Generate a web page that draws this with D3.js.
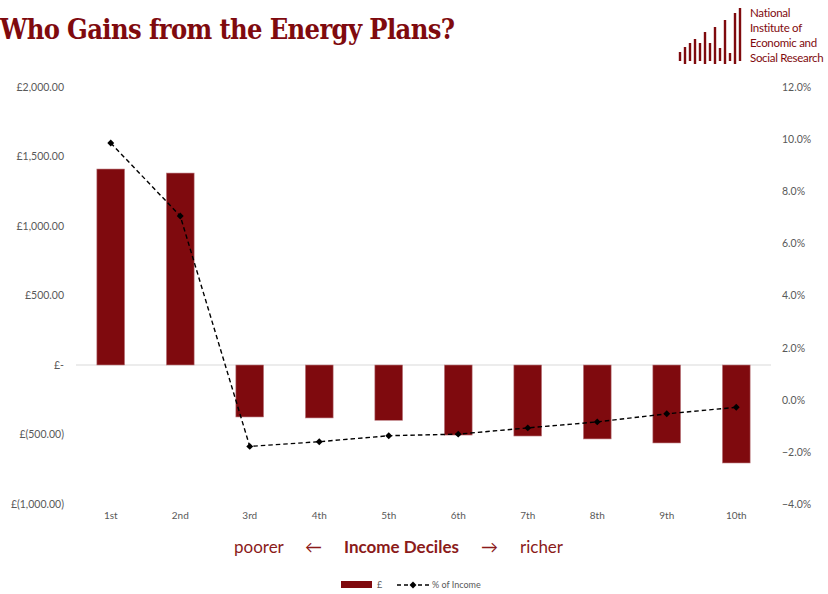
<!DOCTYPE html>
<meta charset="utf-8">
<title>Who Gains from the Energy Plans?</title>
<style>
    body { margin: 0; background: #fff; }
    text { font-family: Lato, "Open Sans", sans-serif; }
</style>
<body>
<script src="https://cdn.jsdelivr.net/npm/d3@7"></script>
<script>
    // data
    const deciles = ['1st','2nd','3rd','4th','5th','6th','7th','8th','9th','10th'];
    const pounds = [1410, 1381, -374, -381, -398, -504, -511, -532, -561, -705];
    const pctIncome = [9.85, 7.05, -1.79, -1.61, -1.38, -1.32, -1.08, -0.85, -0.54, -0.29];
    const leftTicks = [2000, 1500, 1000, 500, 0, -500, -1000];
    const rightTicks = [12, 10, 8, 6, 4, 2, 0, -2, -4];
    const logoBars = [6, 11, 15, 19, 15, 26, 15, 31, 10, 38, 5, 45, 50];

    const width = 828, height = 594;
    const red = '#7f0a0e';

    const svg = d3.select('body').append('svg')
        .attr('width', width)
        .attr('height', height);

    const x = d3.scaleBand()
        .domain(deciles)
        .range([76, 771])
        .paddingInner(0.6)
        .paddingOuter(0.3);

    const yL = d3.scaleLinear().domain([-1000, 2000]).range([504, 87]);
    const yR = d3.scaleLinear().domain([-4, 12]).range([504, 87]);

    const fmtPound = v => {
        if (v === 0) return '£-';
        const s = d3.format(',.2f')(Math.abs(v));
        return v < 0 ? '£(' + s + ')' : '£' + s;
    };

    // title
    svg.append('text')
        .attr('x', 0).attr('y', 39)
        .attr('fill', red)
        .style('font-family', '"DejaVu Serif Condensed", "DejaVu Serif", serif')
        .style('font-weight', 'bold')
        .style('font-size', '27px')
        .attr('textLength', 455)
        .text('Who Gains from the Energy Plans?');

    // logo
    const logo = svg.append('g').attr('class', 'logo');
    logo.selectAll('line')
        .data(logoBars)
        .enter().append('line')
        .attr('x1', (d, i) => 680 + i * 5)
        .attr('x2', (d, i) => 680 + i * 5)
        .attr('y1', d => 58 - d)
        .attr('y2', (d, i) => i % 2 ? 64 : 61)
        .attr('stroke', red)
        .attr('stroke-width', 2.4);
    logo.selectAll('text')
        .data(['National', 'Institute of', 'Economic and', 'Social Research'])
        .enter().append('text')
        .attr('x', 750)
        .attr('y', (d, i) => 17 + i * 15)
        .attr('fill', red)
        .style('font-size', '11.5px')
        .style('letter-spacing', '-0.3px')
        .text(d => d);

    // axes (labels only)
    const axisL = svg.append('g')
        .attr('transform', 'translate(64,0)')
        .call(d3.axisLeft(yL).tickValues(leftTicks).tickFormat(fmtPound).tickSize(0).tickPadding(0));
    const axisR = svg.append('g')
        .attr('transform', 'translate(782,0)')
        .call(d3.axisRight(yR).tickValues(rightTicks).tickFormat(d => d3.format('.1f')(d) + '%').tickSize(0).tickPadding(0));
    [axisL, axisR].forEach(a => {
        a.select('.domain').remove();
        a.selectAll('text')
            .attr('fill', '#595959')
            .style('font-family', 'Lato, sans-serif')
            .style('font-size', '10.5px');
    });

    const axisX = svg.append('g')
        .attr('transform', 'translate(0,512)')
        .call(d3.axisBottom(x).tickSize(0).tickPadding(0));
    axisX.select('.domain').remove();
    axisX.selectAll('text')
        .attr('fill', '#595959')
        .style('font-family', 'Lato, sans-serif')
        .style('font-size', '10px');

    // zero line
    svg.append('line')
        .attr('x1', 76).attr('x2', 771)
        .attr('y1', yL(0)).attr('y2', yL(0))
        .attr('stroke', '#d9d9d9')
        .attr('stroke-width', 1);

    // bars
    svg.append('g')
        .selectAll('rect')
        .data(pounds)
        .enter().append('rect')
        .attr('x', (d, i) => x(deciles[i]))
        .attr('width', x.bandwidth())
        .attr('y', d => yL(Math.max(0, d)))
        .attr('height', d => Math.abs(yL(d) - yL(0)))
        .attr('fill', red)
        .attr('stroke', '#c0858a')
        .attr('stroke-width', 0.6);

    // % of income line
    const cx = (d, i) => x(deciles[i]) + x.bandwidth() / 2;
    const line = d3.line()
        .x(cx)
        .y(d => yR(d));
    svg.append('path')
        .datum(pctIncome)
        .attr('d', line)
        .attr('fill', 'none')
        .attr('stroke', '#000')
        .attr('stroke-width', 1.4)
        .attr('stroke-dasharray', '4.5,3');
    const diamond = d3.symbol().type(d3.symbolSquare).size(24);
    svg.append('g')
        .selectAll('path')
        .data(pctIncome)
        .enter().append('path')
        .attr('d', diamond)
        .attr('transform', (d, i) => `translate(${cx(d, i)},${yR(d)}) rotate(45)`)
        .attr('fill', '#000');

    // x axis title
    const xt = svg.append('text')
        .attr('y', 553)
        .attr('fill', '#8b1a1a')
        .style('font-size', '17px');
    const parts = [
        { t: 'poorer', x: 234, w: 'normal' },
        { t: '←', x: 305, w: 'normal' },
        { t: 'Income Deciles', x: 344, w: 'bold' },
        { t: '→', x: 481, w: 'normal' },
        { t: 'richer', x: 520, w: 'normal' }
    ];
    parts.forEach(p => {
        xt.append('tspan').attr('x', p.x).style('font-weight', p.w).text(p.t);
    });

    // legend
    const lg = svg.append('g').attr('transform', 'translate(0,585)');
    lg.append('rect')
        .attr('x', 341).attr('y', -4)
        .attr('width', 31).attr('height', 7)
        .attr('fill', red);
    lg.append('text')
        .attr('x', 377).attr('y', 3)
        .attr('fill', '#595959')
        .style('font-size', '9px')
        .text('£');
    lg.append('line')
        .attr('x1', 397).attr('x2', 429)
        .attr('y1', 0).attr('y2', 0)
        .attr('stroke', '#000')
        .attr('stroke-width', 1.3)
        .attr('stroke-dasharray', '4,3');
    lg.append('path')
        .attr('d', diamond)
        .attr('transform', 'translate(413,0) rotate(45)')
        .attr('fill', '#000');
    lg.append('text')
        .attr('x', 432).attr('y', 3)
        .attr('fill', '#595959')
        .style('font-size', '9px')
        .text('% of Income');
</script>
</body>
